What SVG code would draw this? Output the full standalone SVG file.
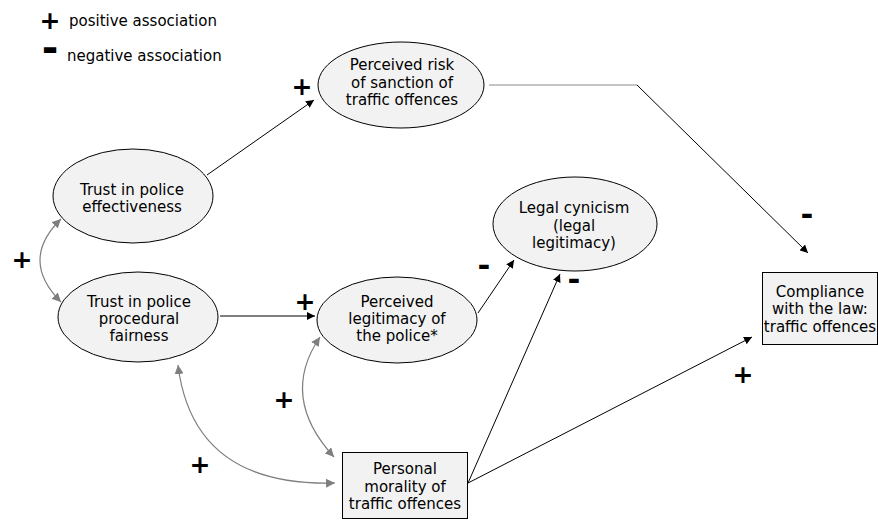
<svg xmlns="http://www.w3.org/2000/svg" width="878" height="521" viewBox="0 0 878 521">
<defs>
<marker id="ab" viewBox="0 0 10 10" refX="10" refY="5" markerWidth="8" markerHeight="8" markerUnits="userSpaceOnUse" orient="auto-start-reverse"><path d="M0,0 L10,5 L0,10 z" fill="#000"/></marker>
<marker id="ag" viewBox="0 0 10 10" refX="10" refY="5" markerWidth="9" markerHeight="9" markerUnits="userSpaceOnUse" orient="auto-start-reverse"><path d="M0,0 L10,5 L0,10 z" fill="#7f7f7f"/></marker>
</defs>
<style>
.n{fill:#f2f2f2;stroke:#000;stroke-width:1}
.t{font-family:"DejaVu Sans",Verdana,sans-serif;font-size:15px;fill:#000;text-anchor:middle}
.lg{font-family:"DejaVu Sans",Verdana,sans-serif;font-size:15px;fill:#000}
.p{font-family:"DejaVu Sans",sans-serif;font-weight:bold;font-size:25px;fill:#000;text-anchor:middle}
.m{font-family:"DejaVu Sans",sans-serif;font-weight:bold;font-size:31px;fill:#000;text-anchor:middle}
.c{fill:none;stroke:#000;stroke-width:1}
.g{fill:none;stroke:#7f7f7f;stroke-width:1.2}
</style>
<rect width="878" height="521" fill="#fff"/>
<g id="legend">
<text class="p" x="50" y="29">+</text>
<text class="lg" x="69" y="26">positive association</text>
<text class="m" x="50" y="62" style="font-size:40px">-</text>
<text class="lg" x="67" y="61">negative association</text>
</g>
<g id="connectors">
<path class="c" d="M207,175 L314,100" marker-end="url(#ab)"/>
<path class="c" d="M489,85 H637" style="stroke:#8a8a8a"/>
<path class="c" d="M637,85 L808,253" marker-end="url(#ab)"/>
<path class="c" d="M220,316 H315" marker-end="url(#ab)"/>
<path class="c" d="M478,313 L514,260" marker-end="url(#ab)"/>
<path class="c" d="M468,483 L560,274" marker-end="url(#ab)"/>
<path class="c" d="M468,483 L752,337" marker-end="url(#ab)"/>
<path class="g" d="M61,219 Q19,260 61,302" marker-start="url(#ag)" marker-end="url(#ag)"/>
<path class="g" d="M178,365 Q193,487 335,483" marker-start="url(#ag)" marker-end="url(#ag)"/>
<path class="g" d="M320,337 Q279,397 334,457" marker-start="url(#ag)" marker-end="url(#ag)"/>
</g>
<g id="signs">
<text class="p" x="302" y="95">+</text>
<text class="p" x="22" y="268">+</text>
<text class="p" x="305" y="310">+</text>
<text class="p" x="284" y="408">+</text>
<text class="p" x="200" y="473">+</text>
<text class="p" x="743" y="383">+</text>
<text class="m" x="484" y="276">-</text>
<text class="m" x="574" y="290">-</text>
<text class="m" x="807" y="225">-</text>
</g>
<g id="risk">
<ellipse class="n" cx="401" cy="85" rx="83" ry="43"/>
<text class="t" x="402" y="70">Perceived risk</text>
<text class="t" x="402" y="88">of sanction of</text>
<text class="t" x="402" y="105">traffic offences</text>
</g>
<g id="effectiveness">
<ellipse class="n" cx="133" cy="196" rx="80" ry="47"/>
<text class="t" x="132" y="195">Trust in police</text>
<text class="t" x="132" y="212">effectiveness</text>
</g>
<g id="procedural">
<ellipse class="n" cx="138" cy="317" rx="80" ry="45"/>
<text class="t" x="139" y="307">Trust in police</text>
<text class="t" x="139" y="324">procedural</text>
<text class="t" x="139" y="341">fairness</text>
</g>
<g id="legitimacy">
<ellipse class="n" cx="397" cy="320" rx="80" ry="43"/>
<text class="t" x="397" y="307">Perceived</text>
<text class="t" x="397" y="324">legitimacy of</text>
<text class="t" x="397" y="341">the police*</text>
</g>
<g id="cynicism">
<ellipse class="n" cx="575" cy="224" rx="82" ry="47"/>
<text class="t" x="574" y="213">Legal cynicism</text>
<text class="t" x="574" y="231">(legal</text>
<text class="t" x="574" y="248">legitimacy)</text>
</g>
<g id="compliance">
<rect class="n" x="762.5" y="272.5" width="115" height="72"/>
<text class="t" x="820" y="297">Compliance</text>
<text class="t" x="820" y="314">with the law:</text>
<text class="t" x="820" y="332">traffic offences</text>
</g>
<g id="morality">
<rect class="n" x="342.5" y="452.5" width="125" height="66"/>
<text class="t" x="405" y="474">Personal</text>
<text class="t" x="405" y="492">morality of</text>
<text class="t" x="405" y="509">traffic offences</text>
</g>
</svg>
